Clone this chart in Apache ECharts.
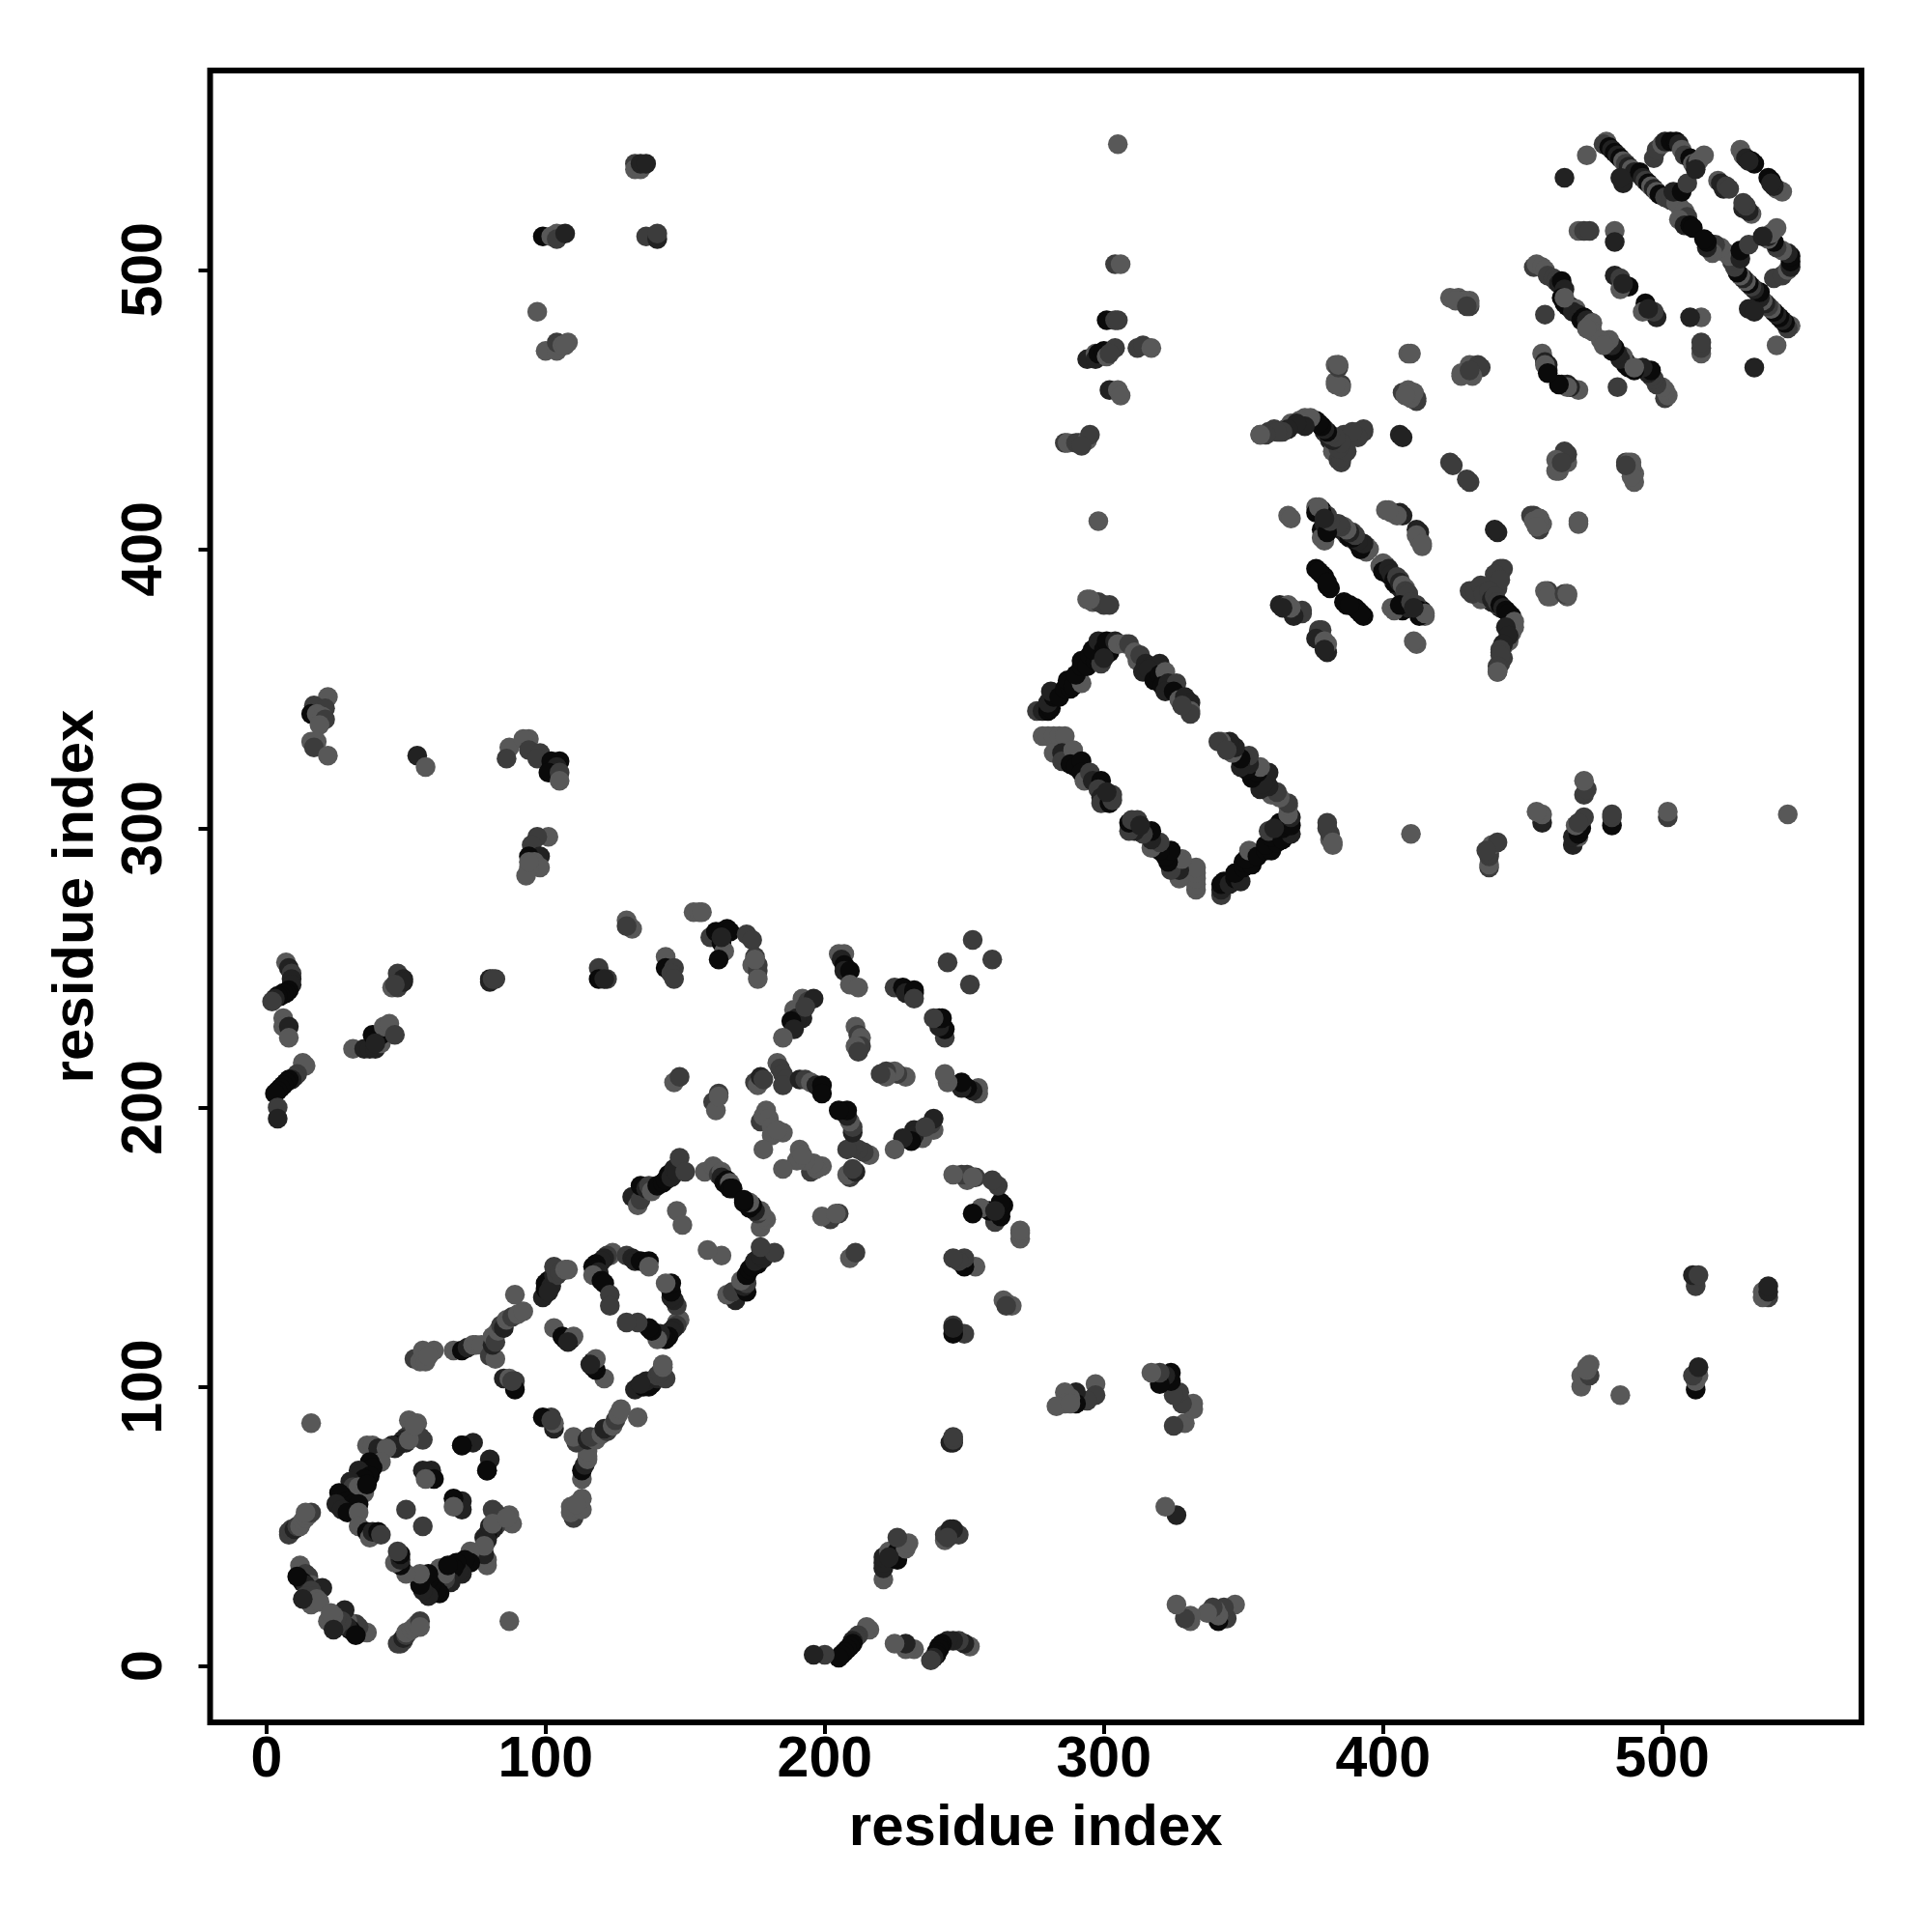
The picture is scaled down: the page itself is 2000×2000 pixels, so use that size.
<!DOCTYPE html>
<html><head><meta charset="utf-8">
<script src="https://cdn.jsdelivr.net/npm/echarts@6/dist/echarts.min.js"></script>
<style>html,body{margin:0;padding:0;background:#fff}#c{width:2000px;height:2000px}</style>
</head><body><div id="c"></div>
<script>
// each contact: [residue i, residue j, strength class 0..3]; the map is symmetric, so only i<j is listed
const tickValues = [0, 100, 200, 300, 400, 500];
const axisTitle = "residue index";

const nTerminalRing = [[8,48,2],[8,47,2],[9,49,2],[10,49,1],[11,50,2],[12,50,3],[13,52,3],[14,53,3],[15,54,3],[16,55,2],[14,55,3],
[16,87,3],[51,88,3],[54,87,3],[52,85,3],[53,84,3],[56,81,2],[55,82,2],[50,82,2],[49,81,1],[48,80,1],[47,79,0],[46,78,1],[45,79,1],[50,80,1],[51,81,3],[53,86,3],
[36,79,3],[38,79,3],[40,78,1],[43,78,3],[41,73,3],[37,73,0],[38,71,0],[33,70,1],[34,69,1],[37,68,0],[35,67,0],[30,66,1],[31,64,2],[33,64,3],[35,62,3],[36,65,0],
[26,62,0],[27,61,0],[29,59,0],[31,58,0],[33,58,0],[25,58,1],[27,56,1],[29,55,0],[33,55,3],[33,50,3],[36,48,0],[37,46,3],[38,48,1],[40,48,0],[41,47,2],
[59,70,1],[56,70,1],[60,67,0],[57,67,3],[74,80,1],[70,79,0],[79,70,0],[50,56,2],
[12,36,3],[12,32,0],[14,33,2],[15,32,2],[16,29,3],[13,30,0],[14,29,1],[20,28,1],[16,27,2],[14,25,2],[17,25,2],[18,24,3],[16,22,3],[19,23,3],[11,32,0],[13,24,1]];

const helixBundleA = [[53,110,2],[55,109,3],[57,109,3],[56,113,3],[60,113,3],[58,111,3],[67,113,3],[70,113,0],[72,114,1],[74,115,3],[75,115,3],[77,115,3],
[80,111,2],[82,110,3],[81,115,1],[81,118,3],[82,116,2],[83,120,3],[84,122,2],[85,121,1],[86,124,3],[88,125,2],[90,126,3],[92,127,3],[89,133,3],
[103,121,3],[106,118,0],[107,117,0],[109,117,0],[110,118,3],[108,116,1],[85,103,1],[87,103,3],[89,102,2],[89,99,0],[88,102,2],
[99,132,1],[100,135,0],[100,137,0],[101,138,0],[102,136,1],[103,140,1],[104,140,2],[103,143,2],[105,141,2],[107,142,3],[108,142,3],[101,134,1],
[124,148,3],[123,147,3],[122,147,2],[121,146,1],[120,145,1],[118,144,0],[117,143,0],[118,142,0],[119,141,1],[117,140,3],[120,138,0],[121,137,0],[123,133,2],[123,129,2],[129,147,2],[131,146,1],[132,145,1],[134,145,0],[137,145,0],[137,143,3]];

const helixBundleB = [[131,168,1],[133,165,3],[134,167,2],[134,172,0],[136,171,1],[137,172,2],[138,170,3],[140,172,0],[142,173,0],[143,174,0],[144,176,0],[145,175,1],[146,178,1],[147,177,1],[148,182,2],[150,177,2],
[157,177,3],[160,179,3],[161,178,3],[162,176,2],[163,177,3],[163,175,1],[164,173,0],[165,174,0],[166,173,3],[166,171,0],[167,171,0],[147,163,3],[149,158,3],
[146,209,3],[148,211,2],[162,205,2],[160,202,2],[161,199,3],[162,204,3],
[175,209,2],[176,208,3],[177,211,1],[178,210,2],[183,216,3],[184,214,2],[185,212,2],[186,210,2],[185,208,2],
[191,210,1],[193,210,2],[195,209,3],[197,208,1],[199,208,0],[199,205,0],
[179,199,3],[177,195,2],[178,197,3],[180,196,3],[181,193,3],[181,190,3],[185,191,3],[183,192,3],[178,185,3],
[211,229,3],[212,226,2],[213,225,3],[213,222,2],[211,222,3],[212,220,2],
[253,260,2],[244,252,2],[205,255,3],[207,255,3],[206,253,1],[207,251,0],[207,249,1],[209,249,0],[209,244,3],[212,243,3],
[225,243,2],[228,243,0],[229,241,1],[232,241,0],[232,242,0],[232,239,2],
[192,239,3],[194,238,2],[196,239,1],[189,235,3],[192,232,1],[190,232,1],[188,231,0],[189,228,1],[185,225,3],[193,236,2]];

const upperArcContacts = [[119,250,2],[120,247,2],[119,246,0],[122,246,2],[121,246,1],[129,267,3],[130,265,3],[131,264,3],[129,265,2],
[143,254,3],[143,250,0],[146,250,2],[145,248,2],[146,246,2],[153,270,3],[155,270,3],[156,270,3],
[159,261,2],[161,263,0],[163,263,0],[165,264,0],[166,263,0],[163,259,0],[164,256,3],[162,253,0],[163,261,1],
[172,262,2],[174,260,2],[175,254,2],[174,251,3],[176,251,2],[176,249,2],[176,246,3],[175,253,3]];

const farContactsLeft = [[22,347,3],[17,344,2],[21,343,2],[16,341,0],[18,341,3],[20,340,3],[21,339,2],[19,337,3],[16,331,3],[18,331,3],[17,329,2],[22,326,3],
[54,326,1],[57,322,3],[87,329,3],[86,325,2],[94,332,3],[92,332,3],[94,328,2],[98,327,2],[97,325,2],[102,324,0],[105,324,0],[104,322,1],[101,320,0],[105,320,2],[105,317,3],
[101,297,3],[97,297,2],[95,294,2],[98,290,1],[94,290,0],[96,288,3],[98,286,3],[94,286,3],[93,283,3],[94,288,3],
[80,246,1],[80,245,1],[81,246,2],[82,246,2],[47,248,2],[45,243,3],[47,243,2],[49,246,1],[49,245,1],[46,244,2],
[7,252,3],[8,250,1],[9,248,2],[9,246,1],[9,244,1],[8,242,0],[7,241,0],[6,241,0],[5,240,0],[4,240,0],[3,239,1],[2,238,2],[6,232,3],[6,229,3],[8,229,1],[8,225,3],
[31,221,3],[35,221,1],[37,221,1],[39,221,1],[41,223,3],[38,226,0],[41,226,0],[42,229,3],[44,230,3],[46,226,2],[39,223,1],
[13,216,3],[14,215,3],[11,212,2],[10,211,2],[9,210,1],[8,210,0],[7,209,0],[6,208,0],[5,207,0],[4,206,0],[3,205,0],[4,200,2],[4,196,1],
[132,538,2],[132,536,3],[134,536,3],[134,538,1],[136,538,1],[99,512,0],[102,512,3],[104,513,3],[104,511,2],[107,513,1],[136,512,2],[140,511,1],[140,513,2],
[97,485,3],[100,471,3],[104,471,3],[104,474,2],[106,473,3],[108,474,3],[107,473,3]];

const rectangleContacts = [[276,342,2],[278,342,1],[280,342,0],[281,343,0],[280,345,1],[282,347,0],[281,349,1],[284,347,0],[286,350,0],[288,350,0],[287,353,0],[289,351,0],[292,352,3],[290,355,0],[292,358,0],[292,360,0],[294,358,0],[295,362,0],[297,360,0],[299,359,2],[296,364,0],[298,367,1],[300,364,0],[302,363,0],[302,366,0],[301,367,0],[304,367,1],[305,366,3],[300,361,1],
[308,366,3],[309,366,2],[311,363,3],[312,360,3],[313,362,2],[315,359,1],[317,358,1],[320,359,1],[314,356,1],[316,357,1],[318,353,0],[320,355,0],[322,356,3],[321,351,0],[323,352,1],[326,352,2],[322,349,1],[325,349,0],[327,346,3],[329,347,1],[331,345,1],[331,342,3],[331,341,2],[328,344,2],
[278,333,3],[280,333,3],[282,333,3],[284,333,3],[286,333,3],[282,327,3],[285,327,1],[285,324,2],[289,328,3],[288,323,0],[290,322,0],[292,324,0],[292,320,0],[293,317,3],[295,320,2],[296,317,1],[299,317,0],[298,314,2],[299,311,1],[299,309,2],[302,309,0],[303,312,2],[303,310,2],[301,313,1]];

const verticalContacts = [[305,545,3],[304,502,2],[306,502,3],[301,482,0],[304,482,2],[305,482,2],[294,468,1],[297,470,3],[297,468,1],[298,470,0],[300,471,0],[301,469,3],[304,472,2],[302,470,2],[312,472,2],[314,473,2],[317,472,3],
[302,457,1],[305,457,3],[306,455,3],[286,438,2],[287,438,3],[290,438,2],[291,438,2],[294,439,3],[295,441,2],[292,437,2],[298,410,3],
[294,382,3],[296,381,3],[298,381,2],[300,380,2],[302,380,2],[295,382,3]];

const middleSheetContacts = [[424,490,3],[427,490,3],[429,489,2],[431,487,2],[431,489,3],[409,470,3],[384,466,3],[383,466,3],[383,460,3],[385,459,2],
[428,463,3],[431,466,3],[432,463,3],[434,466,2],[407,456,2],[409,457,3],[411,456,3],[412,454,2],
[356,441,3],[359,442,2],[361,443,2],[363,442,1],[365,443,2],[367,445,3],[369,445,3],[372,447,3],[374,446,0],[376,446,0],[378,444,1],[379,442,1],[380,441,2],[381,439,1],[383,439,2],[382,435,3],[385,436,3],[384,432,2],[386,434,3],[386,441,2],[389,440,2],[390,441,2],[391,442,3],[393,443,2],
[406,441,1],[424,431,2],[430,425,2],[465,435,2],[462,432,3],[462,428,3],[464,431,2],[488,431,3],[489,429,3],[489,426,3],[487,430,2],
[366,412,3],[376,415,3],[376,413,0],[378,414,0],[380,411,1],[378,407,0],[378,404,3],[379,409,1],[381,410,2],[383,408,1],[384,409,2],[385,407,1],[386,408,3],[387,405,1],[388,404,0],[389,406,2],[390,403,3],[391,402,0],[392,400,1],[393,401,2],[394,401,2],
[401,414,3],[403,413,3],[406,413,1],[412,407,1],[412,405,3],[414,402,3],[440,407,1],[453,412,2],[454,410,3],[456,411,3],[455,408,3],[470,410,3],
[399,394,3],[400,395,3],[400,392,0],[402,393,1],[403,391,1],[404,389,0],[405,390,2],[406,388,1],[407,387,3],[408,385,2],[408,382,2],[409,384,2],[403,379,3],[406,380,0],[410,381,2],[412,380,2],[413,378,0],[414,377,0],[415,377,3],[411,379,1],
[376,393,0],[378,391,0],[380,387,0],[386,381,0],[390,379,0],[392,377,0],[388,380,0],[363,380,1],[366,380,3],[367,378,0],[371,378,2],[377,371,2],[376,368,1],[379,367,3],[379,364,1],[411,367,3],
[442,393,2],[440,391,2],[442,389,2],[431,385,2],[433,385,2],[435,387,2],[436,384,2],[438,385,2],[439,382,1],[440,383,2],[441,381,2],[442,380,0],[443,379,1],[444,378,0],[445,377,0],[447,374,3],[446,370,3],[444,372,1],[445,369,1],[443,366,1],[442,364,2],[442,362,2],[441,358,2],[441,356,3],[458,385,3],[459,383,3],[465,384,2],[466,384,3]];

const cTerminalSheetContacts = [[465,533,1],[473,541,3],[458,484,2],[457,470,3],[458,467,1],[459,466,1],[464,459,1],[466,458,3],[463,459,0],
[480,546,3],[479,545,2],[481,544,0],[482,543,1],[483,542,0],[484,541,1],[485,540,0],[486,539,3],[487,538,2],[488,537,1],[489,536,3],[490,535,1],[492,535,0],[493,533,1],[494,532,2],[495,531,0],[496,530,3],[497,529,1],[498,528,3],[499,527,0],[501,526,2],[503,525,2],[505,524,3],[506,523,3],[508,521,3],[509,519,2],[506,518,3],[508,516,1],[510,516,0],[511,515,0],[486,531,1],[485,533,1],[504,528,1],[507,528,0],[509,531,2],
[497,540,2],[498,543,2],[500,545,3],[501,546,1],[503,546,0],[505,546,0],[506,545,1],[507,543,3],[508,541,2],[510,540,0],[511,538,3],[512,538,1],[513,539,3],[515,541,3],[512,536,1],
[520,532,3],[521,531,1],[522,529,1],[523,530,2],[524,529,2],[528,543,3],[529,541,3],[530,540,1],[532,539,0],[533,538,0],[531,539,1],
[470,514,3],[472,514,2],[474,514,2],[483,514,3],[483,510,1],
[454,501,2],[455,502,3],[457,501,3],[458,500,3],[459,498,2],[461,497,2],[462,496,2],[463,495,1],[464,496,0],[465,493,1],[464,490,0],[465,488,0],[467,487,0],[466,487,0],[469,486,3],[468,485,1],[470,484,1],[471,482,0],[472,483,0],[473,482,1],[474,480,3],[475,481,3],[475,478,3],[473,479,3],[465,490,3],
[483,498,1],[485,497,2],[488,494,0],[485,493,3],[486,495,1]];

const contactGroups = [nTerminalRing, helixBundleA, helixBundleB, upperArcContacts, farContactsLeft, rectangleContacts, verticalContacts, middleSheetContacts, cTerminalSheetContacts];
const strengthGrey = ['#0a0a0a', '#222222', '#3c3c3c', '#585858'];

const points = [];
contactGroups.forEach(g => g.forEach(c => { points.push([c[0], c[1], c[2]]); points.push([c[1], c[0], c[2]]); }));

const font = '"Liberation Sans", Arial, sans-serif';
function axis(rot, nameGap, margin) {
  return {
    type: 'value', min: -20.2, max: 571.4,
    name: axisTitle, nameLocation: 'middle', nameGap: nameGap, nameRotate: rot,
    nameTextStyle: { fontFamily: font, fontWeight: 'bold', fontSize: 60, color: '#000' },
    axisLine: { show: false, onZero: false }, splitLine: { show: false },
    axisTick: { show: true, length: 12, customValues: tickValues, lineStyle: { color: '#000', width: 4 } },
    axisLabel: { show: true, rotate: rot, margin: margin, customValues: tickValues, formatter: v => String(v), fontFamily: font, fontWeight: 'bold', fontSize: 59, color: '#000' }
  };
}
const chart = echarts.init(document.getElementById('c'), null, { renderer: 'canvas' });
chart.setOption({
  animation: false, backgroundColor: '#fff',
  grid: { left: 217.5, right: 73, top: 73, bottom: 217, show: true, borderColor: '#000', borderWidth: 6, backgroundColor: 'transparent', z: 5 },
  xAxis: axis(0, 80, 10),
  yAxis: axis(90, 108, 37),
  series: [{
    type: 'scatter', symbol: 'circle', symbolSize: 20.5, data: points, large: false, silent: true,
    clip: false, progressive: 0,
    itemStyle: { opacity: 1, color: p => strengthGrey[p.value[2]] }
  }]
});
</script></body></html>
